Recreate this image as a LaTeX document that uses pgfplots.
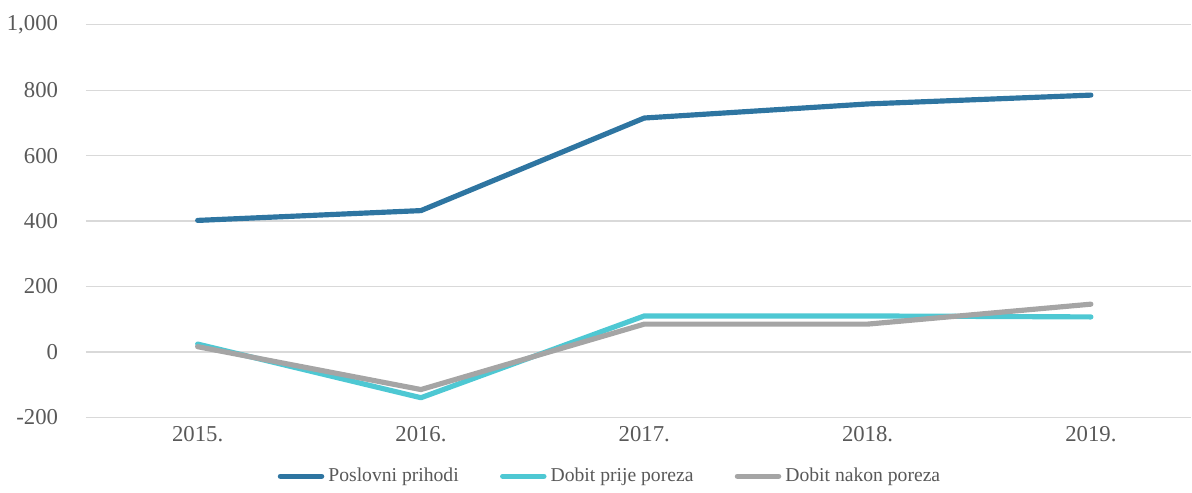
\documentclass[border=0pt]{standalone}
\usepackage{fontspec}
\setmainfont{Liberation Serif}
\usepackage{pgfplots}
\pgfplotsset{compat=1.18}
\definecolor{prihodi}{HTML}{2E75A1}
\definecolor{prije}{HTML}{4EC8D3}
\definecolor{nakon}{HTML}{A5A5A5}
\definecolor{gridc}{HTML}{D9D9D9}
\definecolor{txt}{HTML}{595959}

\begin{document}
\begin{tikzpicture}
\begin{axis}[scale only axis,width=535pt,height=190pt,
  xmin=-0.5,xmax=4.45,ymin=-200,ymax=1000,
  xtick={0,...,4},xticklabels={2015.,2016.,2017.,2018.,2019.},
  ytick={-200,0,...,1000},
  yticklabel style={xshift=-10pt,/pgf/number format/.cd,1000 sep={,},assume math mode=true},
  xticklabel style={yshift=-1pt},
  tick label style={font=\fontsize{11}{13}\selectfont,text=txt},
  major tick length=0pt,
  axis line style={draw=none},
  ymajorgrids,xmajorgrids=false,grid style={draw=gridc,line width=0.6pt},
  legend style={at={(0.475,-0.15)},anchor=center,draw=none,legend columns=-1,
    font=\fontsize{9.5}{10}\selectfont,text=txt,
    /tikz/every even column/.append style={column sep=18pt}},
  legend image code/.code={\draw[#1,line cap=round] (0pt,0pt) -- (20pt,0pt);},
  every axis plot/.append style={line width=2.5pt,line join=round,line cap=round}]
\addplot[prihodi] coordinates {(0,402) (1,432) (2,715) (3,758) (4,785)};
\addlegendentry{Poslovni prihodi}
\addplot[prije] coordinates {(0,24) (1,-140) (2,110) (3,110) (4,107)};
\addlegendentry{Dobit prije poreza}
\addplot[nakon] coordinates {(0,16) (1,-115) (2,85) (3,85) (4,146)};
\addlegendentry{Dobit nakon poreza}
\end{axis}
\path (current axis.north) ++(0,12pt);
\end{tikzpicture}
\end{document}
